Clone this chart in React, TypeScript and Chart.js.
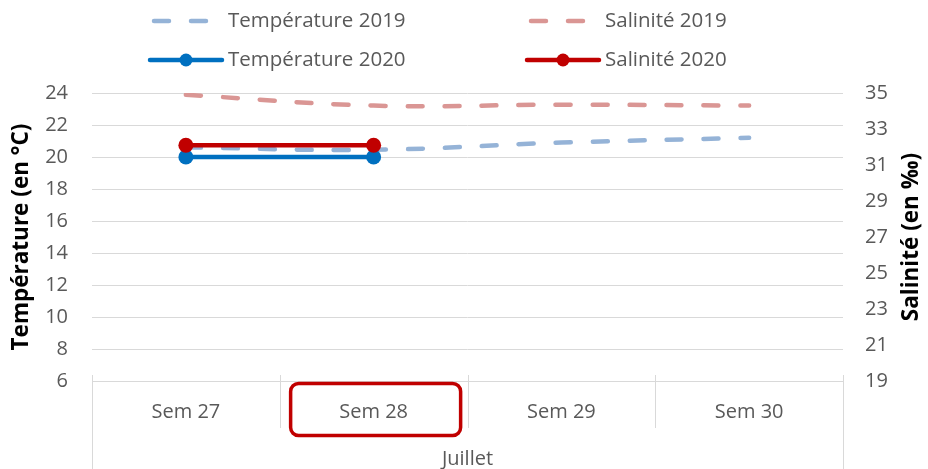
import { useEffect, useRef } from "react";
import { Chart, registerables } from "chart.js";

Chart.register(...registerables);

const weeks = ["Sem 27", "Sem 28", "Sem 29", "Sem 30"];
const monthLabel = "Juillet";
const highlightedWeek = "Sem 28";
const temp2019: (number | null)[] = [20.6, 20.45, 20.9, 21.2];
const sal2019: (number | null)[] = [34.9, 34.3, 34.35, 34.3];
const temp2020: (number | null)[] = [20, 20, null, null];
const sal2020: (number | null)[] = [32.1, 32.1, null, null];
const tempAxis = { min: 6, max: 24, step: 2, title: "Température (en °C)" };
const salAxis = { min: 19, max: 35, step: 2, title: "Salinité (en ‰)" };

const FONT = "'Open Sans', 'DejaVu Sans', sans-serif";
const TXT = "#595959";
const GRID = "#D9D9D9";

const overlayPlugin = {
  id: "overlay",
  afterDraw(chart: any) {
    const ctx = chart.ctx;
    const x = chart.scales.x;
    const area = chart.chartArea;
    ctx.save();
    // category separators
    const n = chart.data.labels.length;
    ctx.strokeStyle = GRID;
    ctx.lineWidth = 1;
    for (let i = 0; i <= n; i++) {
      let px;
      if (i === 0) px = area.left;
      else if (i === n) px = area.right;
      else px = (x.getPixelForValue(i - 1) + x.getPixelForValue(i)) / 2;
      px = Math.round(px) + 0.5;
      const bottom = i === 0 || i === n ? chart.height : area.bottom + 47;
      ctx.beginPath();
      ctx.moveTo(px, area.bottom - 6);
      ctx.lineTo(px, bottom);
      ctx.stroke();
    }
    // highlight box
    const hi = chart.data.labels.indexOf(highlightedWeek);
    if (hi >= 0) {
      const cx = x.getPixelForValue(hi);
      ctx.strokeStyle = "#C00000";
      ctx.lineWidth = 3.5;
      ctx.beginPath();
      ctx.roundRect(cx - 83, area.bottom + 2.5, 170, 52, 8);
      ctx.stroke();
    }
    // right axis title (bottom-to-top)
    ctx.fillStyle = "#000";
    ctx.font = `bold 22.5px ${FONT}`;
    ctx.textAlign = "center";
    ctx.textBaseline = "middle";
    ctx.translate(912, (area.top + area.bottom) / 2);
    ctx.rotate(-Math.PI / 2);
    ctx.fillText(salAxis.title, 0, 0);
    ctx.restore();

    // legend
    ctx.save();
    const cols = [150, 527];
    const rows = [21, 60];
    chart.data.datasets.forEach((ds: any, i: number) => {
      const lx = cols[i % 2];
      const ly = rows[Math.floor(i / 2)];
      ctx.strokeStyle = ds.borderColor;
      ctx.lineWidth = ds.borderWidth;
      ctx.lineCap = "round";
      if (ds.borderDash && ds.borderDash.length) {
        ctx.setLineDash(ds.borderDash);
        ctx.beginPath();
        ctx.moveTo(lx + 4, ly);
        ctx.lineTo(lx + 60, ly);
        ctx.stroke();
        ctx.setLineDash([]);
      } else {
        ctx.beginPath();
        ctx.moveTo(lx, ly);
        ctx.lineTo(lx + 72, ly);
        ctx.stroke();
        ctx.fillStyle = ds.borderColor;
        ctx.beginPath();
        ctx.arc(lx + 36, ly, 6.5, 0, Math.PI * 2);
        ctx.fill();
      }
      ctx.fillStyle = TXT;
      ctx.font = `20.5px ${FONT}`;
      ctx.textAlign = "left";
      ctx.textBaseline = "middle";
      ctx.fillText(ds.label, lx + 78, ly);
    });
    ctx.restore();
  },
};

export default function App() {
  const ref = useRef<HTMLCanvasElement>(null);
  useEffect(() => {
    document.body.style.margin = "0";
    const c = new Chart(ref.current!, {
      type: "line",
      data: {
        labels: weeks,
        datasets: [
          {
            label: "Température 2019",
            data: temp2019,
            yAxisID: "y",
            borderColor: "#95B3D7",
            borderWidth: 4.5,
            borderDash: [15, 22],
            borderCapStyle: "round",
            pointRadius: 0,
            tension: 0.4,
            order: 2,
          },
          {
            label: "Salinité 2019",
            data: sal2019,
            yAxisID: "y1",
            borderColor: "#DA9694",
            borderWidth: 4.5,
            borderDash: [15, 22],
            borderCapStyle: "round",
            pointRadius: 0,
            tension: 0.4,
            order: 2,
          },
          {
            label: "Température 2020",
            data: temp2020,
            yAxisID: "y",
            borderColor: "#0070C0",
            backgroundColor: "#0070C0",
            borderWidth: 4.5,
            pointRadius: 7.5,
            pointBorderWidth: 0,
            tension: 0,
            order: 1,
          },
          {
            label: "Salinité 2020",
            data: sal2020,
            yAxisID: "y1",
            borderColor: "#C00000",
            backgroundColor: "#C00000",
            borderWidth: 4.5,
            pointRadius: 7.5,
            pointBorderWidth: 0,
            tension: 0,
            order: 0,
          },
        ],
      } as any,
      options: {
        responsive: false,
        animation: false,
        layout: { padding: { top: 93 } },
        plugins: { legend: { display: false }, tooltip: { enabled: false } },
        scales: {
          x: {
            offset: true,
            grid: { display: false, drawTicks: false },
            border: { display: true, color: GRID, width: 1 },
            ticks: { color: TXT, font: { family: FONT, size: 20 }, padding: 19, maxRotation: 0 },
            title: {
              display: true,
              text: monthLabel,
              color: TXT,
              font: { family: FONT, size: 20 },
              padding: { top: 0, bottom: -2 },
            },
            afterFit: (s: any) => {
              s.height = 88;
            },
          },
          y: {
            position: "left",
            min: tempAxis.min,
            max: tempAxis.max,
            grid: { color: GRID, drawTicks: false },
            border: { display: false },
            ticks: { stepSize: tempAxis.step, color: TXT, font: { family: FONT, size: 20 }, padding: 24 },
            title: {
              display: true,
              text: tempAxis.title,
              color: "#000",
              font: { family: FONT, size: 22.5, weight: "bold" },
              padding: { top: 8, bottom: 0 },
            },
            afterFit: (s: any) => {
              s.width = 92;
            },
          },
          y1: {
            position: "right",
            min: salAxis.min,
            max: salAxis.max,
            grid: { display: false, drawTicks: false },
            border: { display: false },
            ticks: { stepSize: salAxis.step, color: TXT, font: { family: FONT, size: 20 }, padding: 22 },
            afterFit: (s: any) => {
              s.width = 85;
            },
          },
        },
      } as any,
      plugins: [overlayPlugin],
    });
    return () => c.destroy();
  }, []);
  return <canvas ref={ref} width={928} height={469} style={{ display: "block" }} />;
}
